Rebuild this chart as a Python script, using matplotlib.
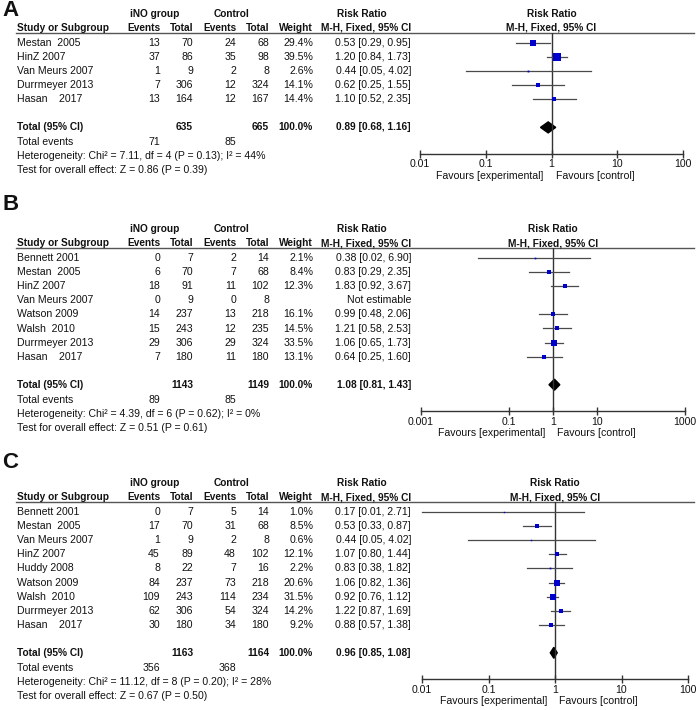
import math
import matplotlib
matplotlib.use("Agg")
from matplotlib import pyplot as plt
from matplotlib.ticker import NullLocator

plt.rcParams['font.family'] = ['Liberation Sans', 'DejaVu Sans']

W, H = 699, 710
FS = 7.6      # regular text
FSB = 7.3     # bold text
BLUE = '#0000cc'

# ---------------- panel A
studies_a = ["Mestan  2005", "HinZ 2007", "Van Meurs 2007", "Durrmeyer 2013", "Hasan    2017"]
ino_ev_a = [13, 37, 1, 7, 13]
ino_tot_a = [70, 86, 9, 306, 164]
ctl_ev_a = [24, 35, 2, 12, 12]
ctl_tot_a = [68, 98, 8, 324, 167]
weight_a = [29.4, 39.5, 2.6, 14.1, 14.4]
rr_a = [0.53, 1.20, 0.44, 0.62, 1.10]
lo_a = [0.29, 0.84, 0.05, 0.25, 0.52]
hi_a = [0.95, 1.73, 4.02, 1.55, 2.35]
total_a = [635, 665, 71, 85, 0.89, 0.68, 1.16]
het_a = "Heterogeneity: Chi\u00b2 = 7.11, df = 4 (P = 0.13); I\u00b2 = 44%"
z_a = "Test for overall effect: Z = 0.86 (P = 0.39)"
ticks_a = [0.01, 0.1, 1, 10, 100]
ticklabels_a = ["0.01", "0.1", "1", "10", "100"]

# ---------------- panel B
studies_b = ["Bennett 2001", "Mestan  2005", "HinZ 2007", "Van Meurs 2007", "Watson 2009",
             "Walsh  2010", "Durrmeyer 2013", "Hasan    2017"]
ino_ev_b = [0, 6, 18, 0, 14, 15, 29, 7]
ino_tot_b = [7, 70, 91, 9, 237, 243, 306, 180]
ctl_ev_b = [2, 7, 11, 0, 13, 12, 29, 11]
ctl_tot_b = [14, 68, 102, 8, 218, 235, 324, 180]
weight_b = [2.1, 8.4, 12.3, None, 16.1, 14.5, 33.5, 13.1]
rr_b = [0.38, 0.83, 1.83, None, 0.99, 1.21, 1.06, 0.64]
lo_b = [0.02, 0.29, 0.92, None, 0.48, 0.58, 0.65, 0.25]
hi_b = [6.90, 2.35, 3.67, None, 2.06, 2.53, 1.73, 1.60]
total_b = [1143, 1149, 89, 85, 1.08, 0.81, 1.43]
het_b = "Heterogeneity: Chi\u00b2 = 4.39, df = 6 (P = 0.62); I\u00b2 = 0%"
z_b = "Test for overall effect: Z = 0.51 (P = 0.61)"
ticks_b = [0.001, 0.1, 1, 10, 1000]
ticklabels_b = ["0.001", "0.1", "1", "10", "1000"]

# ---------------- panel C
studies_c = ["Bennett 2001", "Mestan  2005", "Van Meurs 2007", "HinZ 2007", "Huddy 2008",
             "Watson 2009", "Walsh  2010", "Durrmeyer 2013", "Hasan    2017"]
ino_ev_c = [0, 17, 1, 45, 8, 84, 109, 62, 30]
ino_tot_c = [7, 70, 9, 89, 22, 237, 243, 306, 180]
ctl_ev_c = [5, 31, 2, 48, 7, 73, 114, 54, 34]
ctl_tot_c = [14, 68, 8, 102, 16, 218, 234, 324, 180]
weight_c = [1.0, 8.5, 0.6, 12.1, 2.2, 20.6, 31.5, 14.2, 9.2]
rr_c = [0.17, 0.53, 0.44, 1.07, 0.83, 1.06, 0.92, 1.22, 0.88]
lo_c = [0.01, 0.33, 0.05, 0.80, 0.38, 0.82, 0.76, 0.87, 0.57]
hi_c = [2.71, 0.87, 4.02, 1.44, 1.82, 1.36, 1.12, 1.69, 1.38]
total_c = [1163, 1164, 356, 368, 0.96, 0.85, 1.08]
het_c = "Heterogeneity: Chi\u00b2 = 11.12, df = 8 (P = 0.20); I\u00b2 = 28%"
z_c = "Test for overall effect: Z = 0.67 (P = 0.50)"
ticks_c = [0.01, 0.1, 1, 10, 100]
ticklabels_c = ["0.01", "0.1", "1", "10", "100"]

fig = plt.figure(figsize=(W / 100, H / 100), dpi=100)
bg = fig.add_axes([0, 0, 1, 1])
bg.set_xlim(0, W)
bg.set_ylim(H, 0)
bg.axis('off')


def txt(x, y, s, ha='left', bold=False, size=None):
    if size is None:
        size = FSB if bold else FS
    bg.text(x, y, s, ha=ha, va='center', fontsize=size,
            fontweight='bold' if bold else 'normal', color='#111111')


def draw_panel(letter, letter_y, top, studies, ino_ev, ino_tot, ctl_ev, ctl_tot,
               weight, rr, lo, hi, total, het, zt, ticks, ticklabels, x0, x1):
    txt(2, letter_y, letter, bold=True, size=16)
    # headers
    txt(155, top, "iNO group", ha='center', bold=True)
    txt(232, top, "Control", ha='center', bold=True)
    txt(362, top, "Risk Ratio", ha='center', bold=True)
    h2 = top + 14
    txt(17, h2, "Study or Subgroup", bold=True)
    txt(160, h2, "Events", ha='right', bold=True)
    txt(193, h2, "Total", ha='right', bold=True)
    txt(236, h2, "Events", ha='right', bold=True)
    txt(269, h2, "Total", ha='right', bold=True)
    txt(313, h2, "Weight", ha='right', bold=True)
    txt(366, h2, "M-H, Fixed, 95% CI", ha='center', bold=True)
    line_y = top + 19
    bg.plot([16, 694], [line_y, line_y], color='#555555', lw=1)

    rows = [top + 29 + 14.1 * i for i in range(len(studies))]
    for i, y in enumerate(rows):
        txt(17, y, studies[i])
        txt(160, y, str(ino_ev[i]), ha='right')
        txt(193, y, str(ino_tot[i]), ha='right')
        txt(236, y, str(ctl_ev[i]), ha='right')
        txt(269, y, str(ctl_tot[i]), ha='right')
        if rr[i] is None:
            txt(411, y, "Not estimable", ha='right')
        else:
            txt(313, y, "%.1f%%" % weight[i], ha='right')
            txt(411, y, "%.2f [%.2f, %.2f]" % (rr[i], lo[i], hi[i]), ha='right')

    ty = rows[-1] + 28
    txt(17, ty, "Total (95% CI)", bold=True)
    txt(193, ty, str(total[0]), ha='right', bold=True)
    txt(269, ty, str(total[1]), ha='right', bold=True)
    txt(313, ty, "100.0%", ha='right', bold=True)
    txt(411, ty, "%.2f [%.2f, %.2f]" % (total[4], total[5], total[6]), ha='right', bold=True)
    txt(17, ty + 15, "Total events")
    txt(160, ty + 15, str(total[2]), ha='right')
    txt(236, ty + 15, str(total[3]), ha='right')
    txt(17, ty + 29, het)
    txt(17, ty + 43, zt)

    # forest plot
    axis_y = ty + 26.5
    ax = fig.add_axes([x0 / W, 1 - axis_y / H, (x1 - x0) / W, (axis_y - line_y) / H])
    ax.set_xscale('log')
    ax.set_xlim(ticks[0], ticks[-1])
    ax.set_ylim(axis_y, line_y)
    ax.patch.set_alpha(0)
    for s in ['top', 'left', 'right']:
        ax.spines[s].set_visible(False)
    ax.spines['bottom'].set_color('#333333')
    ax.spines['bottom'].set_linewidth(1)
    ax.set_xticks(ticks)
    ax.set_xticklabels(ticklabels)
    ax.xaxis.set_minor_locator(NullLocator())
    ax.set_yticks([])
    ax.tick_params(axis='x', direction='inout', length=6, width=1, color='#333333',
                   labelsize=FS, pad=1, labelcolor='#111111')
    ax.axvline(1, color='#333333', lw=1)
    for i, y in enumerate(rows):
        if rr[i] is None:
            continue
        ax.plot([lo[i], hi[i]], [y, y], color='#4a4a4a', lw=0.9, clip_on=False)
        side = max(1.15 * weight[i] ** 0.5, 1.4)
        ax.plot([rr[i]], [y], marker='s', ms=side * 0.72, color=BLUE, mec=BLUE, mew=0,
                clip_on=False)
    dh = 5.5
    ax.fill([total[5], total[4], total[6], total[4]], [ty, ty - dh, ty, ty + dh],
            color='black', clip_on=False)
    lt0, lt1 = math.log10(ticks[0]), math.log10(ticks[-1])
    one = x0 + (x1 - x0) * (0 - lt0) / (lt1 - lt0)
    txt(one, top, "Risk Ratio", ha='center', bold=True)
    txt(one, h2, "M-H, Fixed, 95% CI", ha='center', bold=True)
    txt(one - 8, axis_y + 22, "Favours [experimental]", ha='right')
    txt(one + 4, axis_y + 22, "Favours [control]")


draw_panel("A", 11, 14, studies_a, ino_ev_a, ino_tot_a, ctl_ev_a, ctl_tot_a, weight_a,
           rr_a, lo_a, hi_a, total_a, het_a, z_a, ticks_a, ticklabels_a, 420, 683)
draw_panel("B", 204, 229, studies_b, ino_ev_b, ino_tot_b, ctl_ev_b, ctl_tot_b, weight_b,
           rr_b, lo_b, hi_b, total_b, het_b, z_b, ticks_b, ticklabels_b, 421, 685)
draw_panel("C", 463, 483, studies_c, ino_ev_c, ino_tot_c, ctl_ev_c, ctl_tot_c, weight_c,
           rr_c, lo_c, hi_c, total_c, het_c, z_c, ticks_c, ticklabels_c, 422, 688)

fig.savefig("out.png", dpi=100)
